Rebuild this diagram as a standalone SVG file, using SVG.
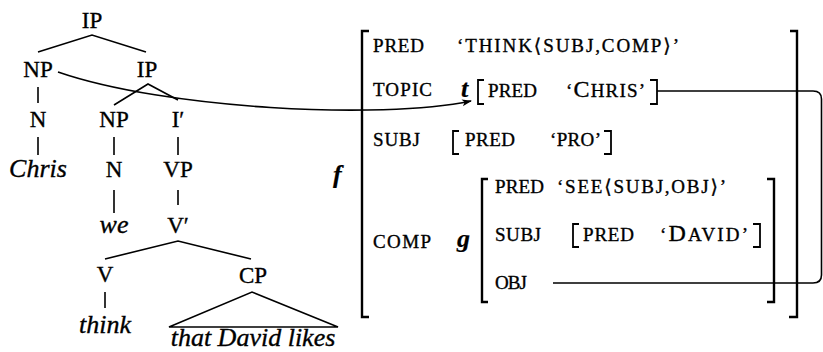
<svg xmlns="http://www.w3.org/2000/svg" width="823" height="352" viewBox="0 0 823 352">
<style>
text{font-family:'Liberation Serif','DejaVu Serif',serif;fill:#000;stroke:#000;stroke-width:0.35}
.lab{font-size:23px;text-anchor:middle}
.it{font-size:26px;font-style:italic;text-anchor:middle}
.var{font-size:26px;font-style:italic;font-weight:bold;stroke-width:0.2}
.sc{font-size:19px;letter-spacing:1px}
.big{font-size:24px}
.ln{fill:none;stroke:#000;stroke-width:1.6}
.br{fill:none;stroke:#000;stroke-width:2.4}
.sb{fill:none;stroke:#000;stroke-width:1.8}
</style>
<defs>
<marker id="ah" markerWidth="10" markerHeight="8" refX="9" refY="4" orient="auto" markerUnits="userSpaceOnUse">
<path d="M0,0.5 L10,4 L0,7.5 L2.5,4 Z" fill="#000"/>
</marker>
</defs>
<g id="tree-nodes">
<g id="n-ip"><text class="lab" x="92" y="28">IP</text></g>
<g id="n-np1"><text class="lab" x="38" y="77">NP</text></g>
<g id="n-ip2"><text class="lab" x="147" y="77">IP</text></g>
<g id="n-n1"><text class="lab" x="38" y="127">N</text></g>
<g id="n-np2"><text class="lab" x="114" y="127">NP</text></g>
<g id="n-ibar"><text class="lab" x="178" y="127">I′</text></g>
<g id="n-chris"><text class="it" x="38" y="177">Chris</text></g>
<g id="n-n2"><text class="lab" x="114" y="177">N</text></g>
<g id="n-vp"><text class="lab" x="178" y="177">VP</text></g>
<g id="n-we"><text class="it" x="114" y="233">we</text></g>
<g id="n-vbar"><text class="lab" x="178" y="233">V′</text></g>
<g id="n-v"><text class="lab" x="105" y="282">V</text></g>
<g id="n-cp"><text class="lab" x="253" y="283">CP</text></g>
<g id="n-think"><text class="it" x="105" y="333">think</text></g>
<g id="n-that"><text class="it" x="253" y="346">that David likes</text></g>
</g>
<g id="connectors">
<path class="ln" d="M38,52 L92,35 L146,52"/>
<path class="ln" d="M38,87 V103"/>
<path class="ln" d="M114,105 L148,84 L178,100"/>
<path class="ln" d="M38,137 V155 M114,137 V155 M178,137 V155"/>
<path class="ln" d="M114,190 V213 M178,190 V205"/>
<path class="ln" d="M105,259 L178,241 L251,259"/>
<path class="ln" d="M105,292 V308"/>
<path class="ln" d="M169,327 L252,292 L338,327 Z"/>
<path class="ln" d="M58,72 C165,109 380,120 471,101" marker-end="url(#ah)"/>
<path class="ln" d="M657,91 H813 Q821.5,91 821.5,99 V275 Q821.5,283 813,283 H553"/>
</g>
<g id="f-structure">
<path class="br" d="M369,31 H362 V317 H369"/>
<path class="br" d="M790,31 H797 V317 H789"/>
<text class="var" x="333" y="183">f</text>
<g id="f-pred">
<text class="sc" x="373" y="52" textLength="52" lengthAdjust="spacing">PRED</text>
<text class="sc" x="457" y="52" textLength="223" lengthAdjust="spacing">‘THINK⟨SUBJ,COMP⟩’</text>
</g>
<g id="f-topic">
<text class="sc" x="373" y="96" textLength="60" lengthAdjust="spacing">TOPIC</text>
<text class="var" x="461" y="97">t</text>
<path class="sb" d="M484,80 H478 V104 H484"/>
<text class="sc" x="488" y="97" textLength="50" lengthAdjust="spacing">PRED</text>
<text class="sc" x="566" y="97" textLength="80" lengthAdjust="spacing">‘<tspan class="big">C</tspan>HRIS’</text>
<path class="sb" d="M650,80 H657 V104 H650"/>
</g>
<g id="f-subj">
<text class="sc" x="373" y="146" textLength="48" lengthAdjust="spacing">SUBJ</text>
<path class="sb" d="M459,131 H453 V154 H459"/>
<text class="sc" x="465" y="146" textLength="51" lengthAdjust="spacing">PRED</text>
<text class="sc" x="550" y="146" textLength="52" lengthAdjust="spacing">‘PRO’</text>
<path class="sb" d="M604,131 H611 V154 H604"/>
</g>
<g id="f-comp">
<text class="sc" x="373" y="248" textLength="59" lengthAdjust="spacing">COMP</text>
<text class="var" x="457" y="247">g</text>
<path class="br" d="M488,179 H482 V302 H488"/>
<path class="br" d="M767,179 H774 V302 H767"/>
<text class="sc" x="495" y="193" textLength="50" lengthAdjust="spacing">PRED</text>
<text class="sc" x="557" y="193" textLength="170" lengthAdjust="spacing">‘SEE⟨SUBJ,OBJ⟩’</text>
<text class="sc" x="495" y="241" textLength="47" lengthAdjust="spacing">SUBJ</text>
<path class="sb" d="M579,224 H573 V247 H579"/>
<text class="sc" x="583" y="241" textLength="52" lengthAdjust="spacing">PRED</text>
<text class="sc" x="660" y="241" textLength="89" lengthAdjust="spacing">‘<tspan class="big">D</tspan>AVID’</text>
<path class="sb" d="M753,224 H760 V247 H753"/>
<text class="sc" x="495" y="289" textLength="33" lengthAdjust="spacing">OBJ</text>
</g>
</g>
</svg>
